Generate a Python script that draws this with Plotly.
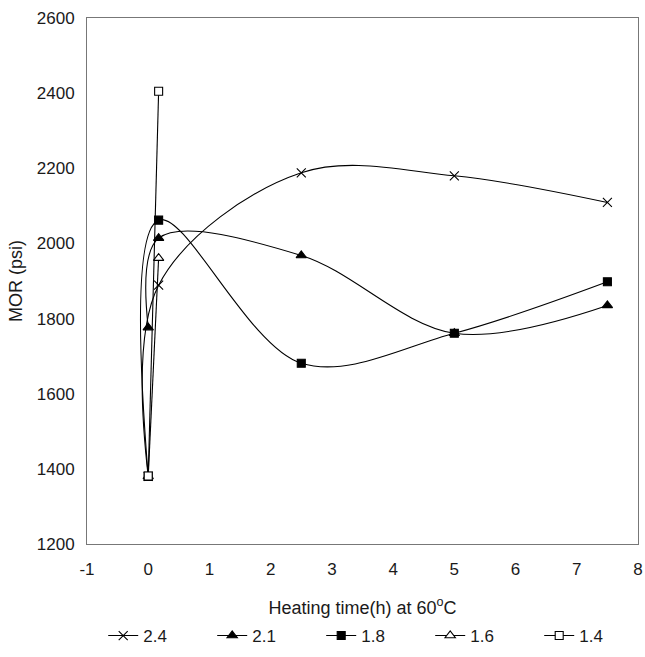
import plotly.graph_objects as go

# Data
series_names = ["2.4", "2.1", "1.8", "1.6", "1.4"]
x_24 = [0, 0.17, 2.5, 5, 7.5]
y_24 = [1380, 1889, 2188, 2180, 2109]
x_21 = [0, 0.17, 2.5, 5, 7.5]
y_21 = [1776, 2014, 1968, 1761, 1835]
x_18 = [0, 0.17, 2.5, 5, 7.5]
y_18 = [1380, 2062, 1681, 1761, 1898]
x_16 = [0, 0.17]
y_16 = [1380, 1961]
x_14 = [0, 0.17]
y_14 = [1381, 2405]

x_ticks = [-1, 0, 1, 2, 3, 4, 5, 6, 7, 8]
y_ticks = [1200, 1400, 1600, 1800, 2000, 2200, 2400, 2600]

FONT = "Liberation Sans, Arial, sans-serif"
TXT = "#1a1a1a"

fig = go.Figure()

def add(name, xs, ys, symbol, fill, size, shape):
    fig.add_trace(go.Scatter(
        x=xs, y=ys, name=name, mode="lines+markers",
        line=dict(color="black", width=1.1, shape=shape, smoothing=1.0),
        marker=dict(symbol=symbol, size=size, color=fill,
                    line=dict(color="black", width=1.1)),
    ))

add(series_names[0], x_24, y_24, "x-thin", "black", 9, "spline")
add(series_names[1], x_21, y_21, "triangle-up", "black", 9, "spline")
add(series_names[2], x_18, y_18, "square", "black", 8, "spline")
add(series_names[3], x_16, y_16, "triangle-up", "white", 9, "linear")
add(series_names[4], x_14, y_14, "square", "white", 8, "linear")

fig.update_layout(
    width=645, height=657,
    margin=dict(l=87, r=7, t=18, b=113, autoexpand=False),
    paper_bgcolor="white", plot_bgcolor="white",
    font=dict(family=FONT, size=17, color=TXT),
    showlegend=True,
    legend=dict(orientation="h", xref="container", yref="container",
                x=0.16, xanchor="left", y=0.032, yanchor="middle",
                entrywidth=64, entrywidthmode="pixels", itemwidth=30,
                font=dict(family=FONT, size=17, color=TXT),
                bgcolor="rgba(0,0,0,0)"),
    xaxis=dict(range=[-1, 8], tickmode="array", tickvals=x_ticks,
               ticktext=[str(v) for v in x_ticks], automargin=False,
               ticklabeloverflow="allow",
               showgrid=False, zeroline=False, showline=True, mirror=True,
               linecolor="#777", linewidth=1, ticks="", ticklabelstandoff=10,
               tickfont=dict(family=FONT, size=17, color=TXT),
               title=dict(text="Heating time(h) at 60<sup>o</sup>C", standoff=24,
                          font=dict(family=FONT, size=18, color=TXT))),
    yaxis=dict(range=[1200, 2600], tickmode="array", tickvals=y_ticks,
               ticktext=[str(v) for v in y_ticks], automargin=False,
               showgrid=False, zeroline=False, showline=True, mirror=True,
               linecolor="#777", linewidth=1, ticks="", ticklabelstandoff=8,
               tickfont=dict(family=FONT, size=17, color=TXT),
               title=dict(text="MOR (psi)", standoff=9,
                          font=dict(family=FONT, size=18, color=TXT))),
)

fig.write_html("out.html",
               config={"displayModeBar": False},
               post_script="document.body.style.margin='0';"
                           "document.body.style.overflow='hidden';")
